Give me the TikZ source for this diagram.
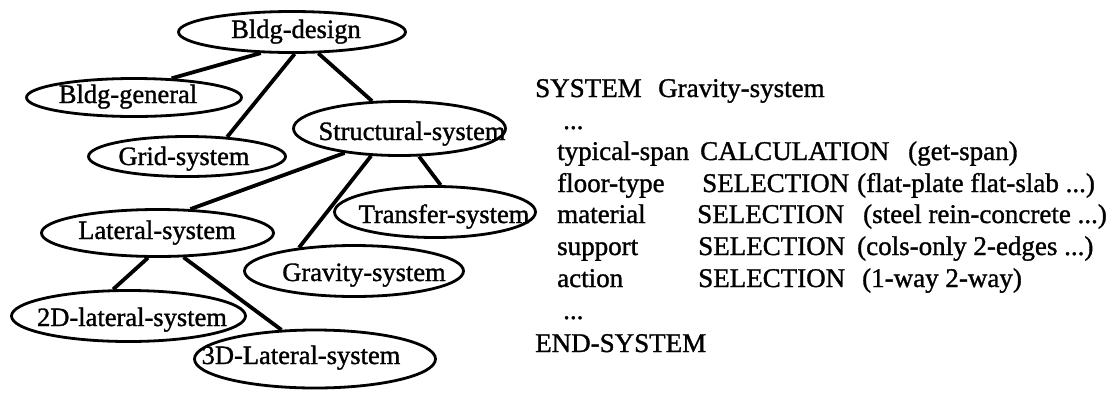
\documentclass[tikz,border=0pt]{standalone}
\usepackage{fontspec}
\setmainfont{Liberation Serif}[FakeBold=1.2]
\usetikzlibrary{shapes.geometric}
\begin{document}
\begin{tikzpicture}[x=1pt,y=-1pt,
  ell/.style={draw, ellipse, line width=2.8pt, inner sep=0pt, fill=white},
  lbl/.style={anchor=base, inner sep=0pt, font=\fontsize{26.5}{30}\selectfont},
  txt/.style={anchor=base west, inner sep=0pt, font=\fontsize{27}{31}\selectfont},
  link/.style={line width=3.8pt}]
\useasboundingbox (0,0) rectangle (1114,392);

% ellipses
\node[ell, minimum width=227pt, minimum height=41pt] (bd) at (292,32) {};
\node[ell, minimum width=215pt, minimum height=38pt] (bg) at (134,97.5) {};
\node[ell, minimum width=197pt, minimum height=40pt] (grid) at (187,156.5) {};
\node[ell, minimum width=212pt, minimum height=54pt] (struct) at (399.5,128.5) {};
\node[ell, minimum width=201pt, minimum height=51pt] (transfer) at (435,212) {};
\node[ell, minimum width=219pt, minimum height=51pt] (grav) at (354,271) {};
\node[ell, minimum width=232pt, minimum height=47pt] (lat) at (157.5,233) {};
\node[ell, minimum width=234pt, minimum height=51pt] (twod) at (128.5,316) {};
\node[ell, minimum width=241pt, minimum height=58pt] (threed) at (315,359) {};

% connectors
\draw[link] (bd.214.5) -- (bg.27.7);
\draw[link] (bd.277.8) -- (grid.26.6);
\draw[link] (bd.321.8) -- (struct.135);
\draw[link] (struct.204.7) -- (lat.36.4);
\draw[link] (struct.224) -- (grav.157);
\draw[link] (struct.305.7) -- (transfer.78.7);
\draw[link] (lat.249) -- (twod.120.8);
\draw[link] (lat.317.7) -- (threed.139.7);

% labels
\node[lbl] (bdt) at (296,38) {Bldg-design};
\node[lbl] (bgt) at (128,103) {Bldg-general};
\node[lbl] (gridt) at (184,165) {Grid-system};
\node[lbl] (structt) at (412,140) {Structural-system};
\node[lbl] (transfert) at (444,223) {Transfer-system};
\node[lbl] (gravt) at (364,281) {Gravity-system};
\node[lbl] (latt) at (157,239) {Lateral-system};
\node[lbl] (twodt) at (132,326) {2D-lateral-system};
\node[lbl] (threedt) at (301,364) {3D-Lateral-system};

% system description
\node[txt] (sys) at (535,97) {SYSTEM};
\node[txt] (sysname) at (658,97) {Gravity-system};
\node[txt] (dotsa) at (563,129) {...};
\node[txt] (r1a) at (557,160) {typical-span};
\node[txt] (r1b) at (700,160) {CALCULATION};
\node[txt] (r1c) at (908,160) {(get-span)};
\node[txt] (r2a) at (557,192) {floor-type};
\node[txt] (r2b) at (702,192) {SELECTION};
\node[txt] (r2c) at (857,192) {(flat-plate flat-slab ...)};
\node[txt] (r3a) at (557,223) {material};
\node[txt] (r3b) at (697,223) {SELECTION};
\node[txt] (r3c) at (863,223) {(steel rein-concrete ...)};
\node[txt] (r4a) at (557,255) {support};
\node[txt] (r4b) at (698,255) {SELECTION};
\node[txt] (r4c) at (857,255) {(cols-only 2-edges ...)};
\node[txt] (r5a) at (557,287) {action};
\node[txt] (r5b) at (698,287) {SELECTION};
\node[txt] (r5c) at (862,287) {(1-way 2-way)};
\node[txt] (dotsb) at (563,319) {...};
\node[txt] (endsys) at (535,352) {END-SYSTEM};
\end{tikzpicture}
\end{document}
